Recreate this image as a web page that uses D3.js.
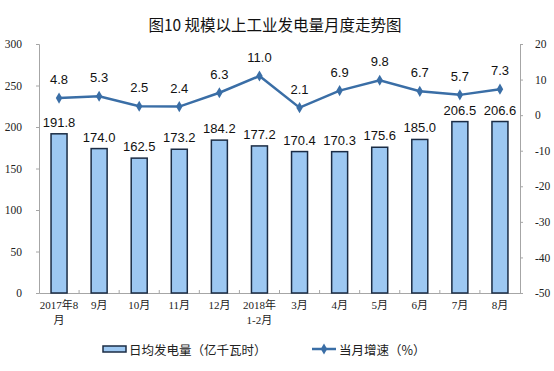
<!DOCTYPE html>
<html><head><meta charset="utf-8">
<script src="https://cdn.jsdelivr.net/npm/d3@7"></script>
<style>body{margin:0;background:#fff}svg{display:block}</style>
</head><body>
<svg id="c" width="554" height="371"></svg>
<script>
const categories = [["2017年8","月"],["9月"],["10月"],["11月"],["12月"],["2018年","1-2月"],["3月"],["4月"],["5月"],["6月"],["7月"],["8月"]];
const dailyOutput = [191.8,174.0,162.5,173.2,184.2,177.2,170.4,170.3,175.6,185.0,206.5,206.6];
const growth = [4.8,5.3,2.5,2.4,6.3,11.0,2.1,6.9,9.8,6.7,5.7,7.3];
const leftTicks = [0,50,100,150,200,250,300];
const rightTicks = [-50,-40,-30,-20,-10,0,10,20];

const svg = d3.select("#c");
const L = 39, R = 520, T = 44, B = 293;
const x = d3.scaleBand().domain(d3.range(categories.length)).range([L,R]);
const yL = d3.scaleLinear().domain([0,300]).range([B,T]);
const yR = d3.scaleLinear().domain([-50,20]).range([B,T]);
const serif = "'Liberation Serif','Times New Roman',serif";
const sans = "'Liberation Sans',Arial,'Noto Sans CJK SC',sans-serif";
const axisCol = "#a6a6a6";

svg.append("text").attr("x",275).attr("y",31).attr("text-anchor","middle")
  .style("font-family","'Noto Sans CJK SC',sans-serif").style("font-size","15.5px").style("fill","#111")
  .text("图10 规模以上工业发电量月度走势图");

// left axis
const gl = svg.append("g").attr("transform",`translate(${L},0)`)
  .call(d3.axisLeft(yL).tickValues(leftTicks).tickFormat(d=>String(d)).tickSize(3).tickPadding(14));
// right axis
const gr = svg.append("g").attr("transform",`translate(${R},0)`)
  .call(d3.axisRight(yR).tickValues(rightTicks).tickFormat(d=>String(d)).tickSize(3).tickPadding(12));
// bottom axis
const gb = svg.append("g").attr("transform",`translate(0,${B})`)
  .call(d3.axisBottom(x).tickSize(0).tickFormat(""));
[gl,gr,gb].forEach(g=>{
  g.selectAll("path,line").attr("stroke",axisCol);
  g.selectAll("text").style("font-family",serif).style("font-size","11.5px").style("fill","#222");
});
// minor ticks between categories on x axis
svg.append("g").selectAll("line").data(d3.range(1,categories.length)).join("line")
  .attr("x1",i=>x(i)).attr("x2",i=>x(i)).attr("y1",B).attr("y2",B-3).attr("stroke",axisCol);

// x labels
const xl = svg.append("g");
categories.forEach((lines,i)=>{
  const t = xl.append("text").attr("x",x(i)+x.bandwidth()/2).attr("y",B+16)
    .attr("text-anchor","middle").style("font-family",serif+",'Noto Sans CJK SC'").style("font-size","11px").style("fill","#222");
  lines.forEach((s,j)=>t.append("tspan").attr("x",x(i)+x.bandwidth()/2).attr("dy",j?15:0).text(s));
});

// bars
const bw = 16;
svg.append("g").selectAll("rect").data(dailyOutput).join("rect")
  .attr("x",(d,i)=>x(i)+x.bandwidth()/2-bw/2).attr("width",bw)
  .attr("y",d=>yL(d)).attr("height",d=>B-yL(d))
  .attr("fill","#9dc8f2").attr("stroke","#1b2c44").attr("stroke-width",1.5);
svg.append("g").selectAll("text").data(dailyOutput).join("text")
  .attr("x",(d,i)=>x(i)+x.bandwidth()/2).attr("y",d=>yL(d)-7).attr("text-anchor","middle")
  .style("font-family",sans).style("font-size","13px").style("fill","#111").text(d=>d.toFixed(1));

// line
const cx = i=>x(i)+x.bandwidth()/2;
svg.append("path").datum(growth)
  .attr("d",d3.line().x((d,i)=>cx(i)).y(d=>yR(d)))
  .attr("fill","none").attr("stroke","#3a6ea6").attr("stroke-width",2.5);
const diamond = d3.symbol().type(d3.symbolDiamond).size(36);
svg.append("g").selectAll("path").data(growth).join("path")
  .attr("transform",(d,i)=>`translate(${cx(i)},${yR(d)})`).attr("d",diamond).attr("fill","#3a6ea6");
svg.append("g").selectAll("text").data(growth).join("text")
  .attr("x",(d,i)=>cx(i)).attr("y",d=>yR(d)-14).attr("text-anchor","middle")
  .style("font-family",sans).style("font-size","13px").style("fill","#111").text(d=>d.toFixed(1));

// legend
const lg = svg.append("g");
lg.append("rect").attr("x",103).attr("y",346).attr("width",23).attr("height",6)
  .attr("fill","#9dc8f2").attr("stroke","#1b2c44").attr("stroke-width",1.5);
lg.append("text").attr("x",129).attr("y",355).style("font-family","'Noto Sans CJK SC',sans-serif")
  .style("font-size","12.5px").style("fill","#222").text("日均发电量（亿千瓦时）");
lg.append("line").attr("x1",312).attr("x2",336).attr("y1",349).attr("y2",349).attr("stroke","#3a6ea6").attr("stroke-width",2.5);
lg.append("path").attr("transform","translate(324,349)").attr("d",diamond).attr("fill","#3a6ea6");
lg.append("text").attr("x",339).attr("y",355).style("font-family","'Noto Sans CJK SC',sans-serif")
  .style("font-size","12.5px").style("fill","#222").text("当月增速（%）");
</script>
</body></html>
